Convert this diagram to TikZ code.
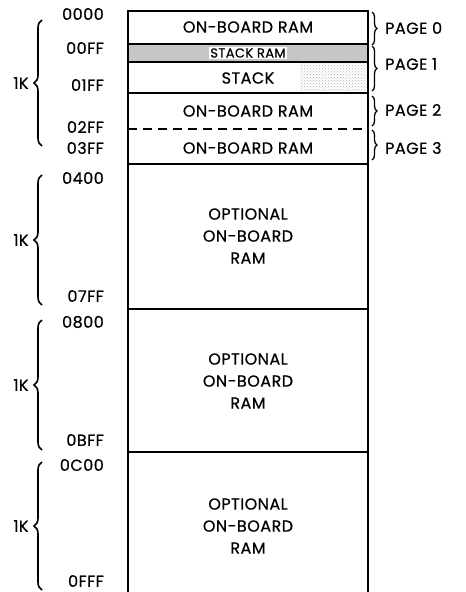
\documentclass[tikz,border=0pt]{standalone}
\usepackage{fontspec}
\setmainfont[LetterSpace=3, FakeBold=0.6]{Poppins}
\usetikzlibrary{decorations.pathreplacing,patterns,positioning}

\begin{document}
\begin{tikzpicture}[x=1pt, y=-1pt]
		\tikzstyle{every node}=[font=\fontsize{16}{22}\selectfont, inner sep=0pt]
		\tikzstyle{addr}=[anchor=east]
		\tikzstyle{lbrace}=[decorate, decoration={brace, amplitude=8pt}, line width=1.6pt]
		\tikzstyle{rbrace}=[decorate, decoration={brace, amplitude=5pt}, line width=1.3pt]
		\useasboundingbox (0,0) rectangle (466,592);
		% shaded stack area
		\fill [gray!45] (128,44) rectangle (368,62);
		\fill [pattern=crosshatch dots, pattern color=gray!60] (300,62) rectangle (368,93);
		% memory outline
		\draw [line width=1.7pt] (128,592) -- (128,11) -- (368,11) -- (368,592);
		\draw [line width=1.7pt] (128,44) -- (368,44);
		\draw [line width=1.7pt] (128,62) -- (368,62);
		\draw [line width=1.7pt] (128,93) -- (368,93);
		\draw [line width=1.4pt, dash pattern=on 9pt off 6pt] (128,129) -- (368,129);
		\draw [line width=1.7pt] (128,164) -- (368,164);
		\draw [line width=1.7pt] (128,309) -- (368,309);
		\draw [line width=1.7pt] (128,452) -- (368,452);
		% block labels
		\node (ram0) at (248,27) {ON-BOARD RAM};
		\node [fill=white, inner sep=1pt] (stkram) at (248,53) {\fontsize{13}{14}\selectfont STACK RAM};
		\node (stk) at (248,78) {STACK};
		\node (ram2) at (248,111) {ON-BOARD RAM};
		\node (ram3) at (248,148) {ON-BOARD RAM};
		\node [align=center] (opt1) at (248,236) {OPTIONAL\\ON-BOARD\\RAM};
		\node [align=center] (opt2) at (248,381) {OPTIONAL\\ON-BOARD\\RAM};
		\node [align=center] (opt3) at (248,526) {OPTIONAL\\ON-BOARD\\RAM};
		% addresses
		\node [addr] (a0000) at (104,14) {0000};
		\node [addr] (a00FF) at (104,48) {00FF};
		\node [addr] (a01FF) at (104,85) {01FF};
		\node [addr] (a02FF) at (104,127) {02FF};
		\node [addr] (a03FF) at (104,148) {03FF};
		\node [addr] (a0400) at (104,178) {0400};
		\node [addr] (a07FF) at (104,296) {07FF};
		\node [addr] (a0800) at (104,322) {0800};
		\node [addr] (a0BFF) at (104,440) {0BFF};
		\node [addr] (a0C00) at (104,465) {0C00};
		\node [addr] (a0FFF) at (104,581) {0FFF};
		% 1K braces
		\draw [lbrace] (42,146) -- (42,20);
		\draw [lbrace] (42,305) -- (42,175);
		\draw [lbrace] (42,450) -- (42,320);
		\draw [lbrace] (42,590) -- (42,462);
		\node (k1) at (21,83) {1K};
		\node (k2) at (21,240) {1K};
		\node (k3) at (21,385) {1K};
		\node (k4) at (21,526) {1K};
		% page braces
		\draw [rbrace] (372,12) -- (372,45);
		\draw [rbrace] (372,46) -- (372,91);
		\draw [rbrace] (372,96) -- (372,126);
		\draw [rbrace] (372,130) -- (372,160);
		\node [anchor=west] (p0) at (385,28) {PAGE 0};
		\node [anchor=west] (p1) at (385,64) {PAGE 1};
		\node [anchor=west] (p2) at (385,110) {PAGE 2};
		\node [anchor=west] (p3) at (385,148) {PAGE 3};
\end{tikzpicture}
\end{document}
